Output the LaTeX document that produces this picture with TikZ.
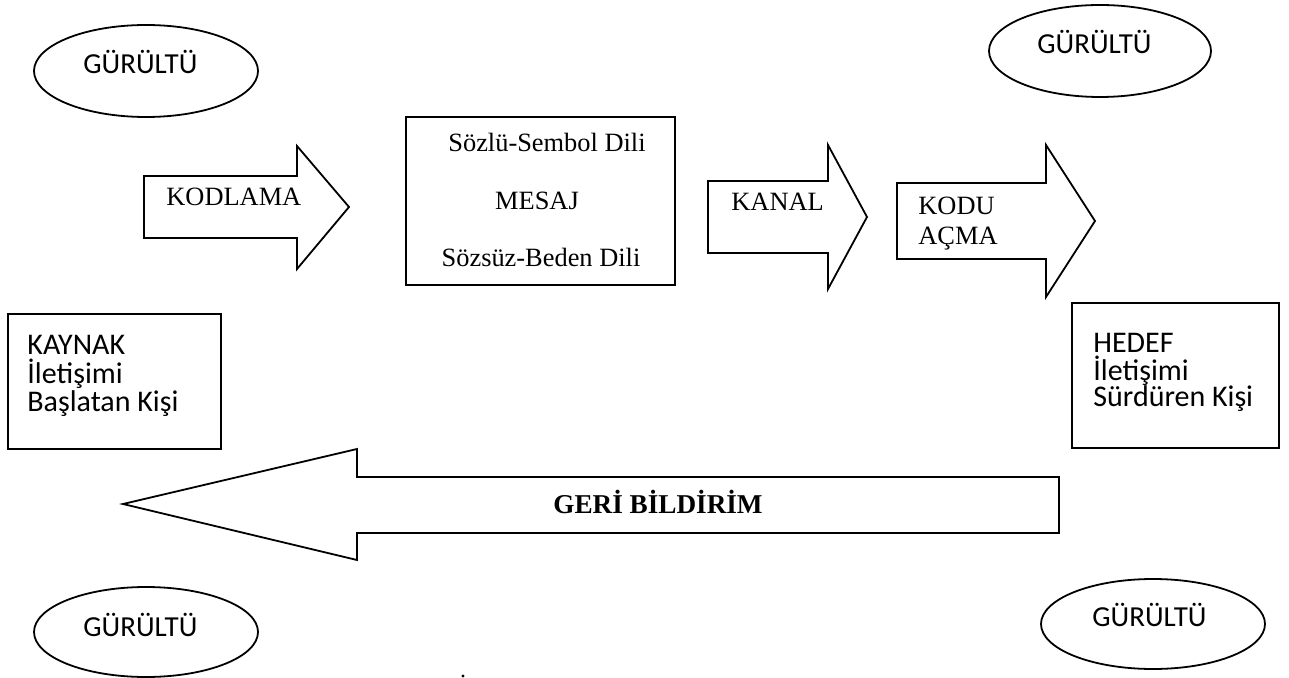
\documentclass[tikz,border=0pt]{standalone}
\usepackage{fontspec}
\setmainfont{Liberation Serif}
\newfontfamily\calfont{Carlito}
\usetikzlibrary{shapes.geometric}
\begin{document}
\begin{tikzpicture}[x=0.5pt,y=-0.5pt,
  shp/.style={draw=black,line width=0.9pt,line join=miter},
  noise/.style={draw=black,line width=0.9pt,ellipse,inner sep=0pt},
  sertxt/.style={font=\fontsize{13.2pt}{15pt}\selectfont,inner sep=0pt},
  santxt/.style={font=\calfont\fontsize{14.5pt}{16pt}\selectfont,inner sep=0pt,anchor=base west},
  boxtxt/.style={font=\calfont\fontsize{15pt}{16pt}\selectfont,inner sep=0pt,anchor=base west}]
\useasboundingbox (0,0) rectangle (1289,678);
% noise ellipses
\node[noise,minimum width=112pt,minimum height=46pt] (n1) at (146,71) {};
\node[noise,minimum width=111pt,minimum height=46pt] (n2) at (1100,51) {};
\node[noise,minimum width=112pt,minimum height=45pt] (n3) at (146,632) {};
\node[noise,minimum width=112pt,minimum height=45pt] (n4) at (1153,624) {};
\node[santxt] (t1) at (83,74) {GÜRÜLTÜ};
\node[santxt] (t2) at (1037,54) {GÜRÜLTÜ};
\node[santxt] (t3) at (83,636) {GÜRÜLTÜ};
\node[santxt] (t4) at (1092,626) {GÜRÜLTÜ};
% arrows
\draw[shp] (144,176) -- (297,176) -- (297,146) -- (349,207) -- (297,269) -- (297,238) -- (144,238) -- cycle;
\draw[shp] (708,181) -- (828,181) -- (828,145) -- (867,217) -- (828,289) -- (828,253) -- (708,253) -- cycle;
\draw[shp] (897,183) -- (1046,183) -- (1046,145) -- (1095,221) -- (1046,297) -- (1046,259) -- (897,259) -- cycle;
\draw[shp] (1059,477) -- (357,477) -- (357,449) -- (123,504) -- (357,560) -- (357,533) -- (1059,533) -- cycle;
\node[sertxt,anchor=base west] (kod) at (166,206) {KODLAMA};
\node[sertxt,anchor=base west] (kan) at (731,211) {KANAL};
\node[sertxt,anchor=base west] (ac1) at (918,215) {KODU};
\node[sertxt,anchor=base west] (ac2) at (918,245) {AÇMA};
\node[sertxt,anchor=base,font=\bfseries\fontsize{13.6pt}{15pt}\selectfont] (geri) at (658,513) {GERİ BİLDİRİM};
% message box
\draw[shp] (406,117) rectangle (675,285);
\node[sertxt,anchor=base] (m1) at (547,152) {Sözlü-Sembol Dili};
\node[sertxt,anchor=base] (m2) at (537,210) {MESAJ};
\node[sertxt,anchor=base] (m3) at (541,267) {Sözsüz-Beden Dili};
% source and target boxes
\draw[shp] (8,314) rectangle (221,449);
\node[boxtxt] (k1) at (27,355) {KAYNAK};
\node[boxtxt] (k2) at (27,383) {İletişimi};
\node[boxtxt] (k3) at (27,411) {Başlatan Kişi};
\draw[shp] (1072,303) rectangle (1279,448);
\node[boxtxt] (h1) at (1093,353) {HEDEF};
\node[boxtxt] (h2) at (1093,380) {İletişimi};
\node[boxtxt] (h3) at (1093,407) {Sürdüren Kişi};
% stray dot
\fill (463,676) circle (0.8pt);
\end{tikzpicture}
\end{document}
